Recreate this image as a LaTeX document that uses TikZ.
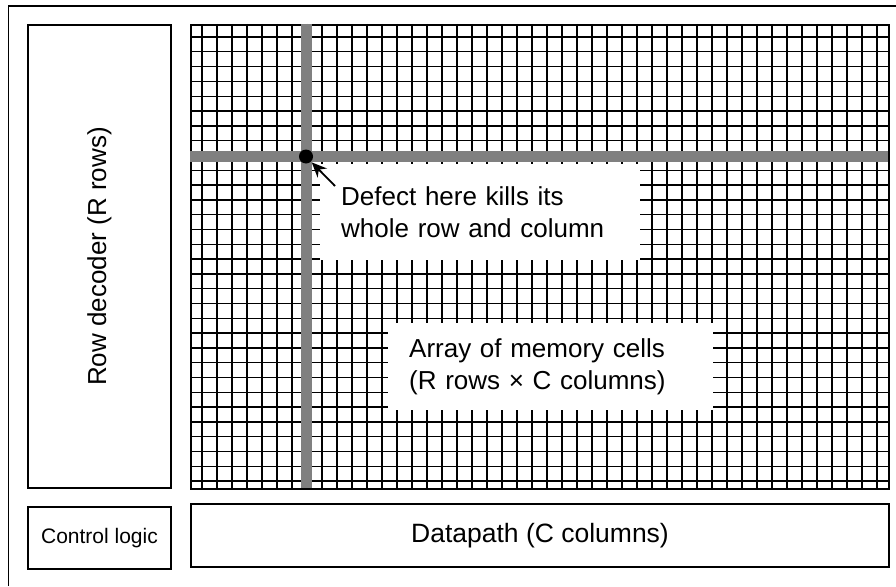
\documentclass[tikz,border=0pt]{standalone}
\usepackage{fontspec}
\setmainfont{Liberation Sans}
\usetikzlibrary{arrows.meta}
\definecolor{bandgray}{HTML}{808080}
\begin{document}
\begin{tikzpicture}[x=1pt,y=-1pt,
  box/.style={draw=black, line width=2pt, inner sep=0pt},
  big/.style={font=\fontsize{26}{32}\selectfont},
  gridline/.style={line width=1.4pt, draw=black},
  band/.style={line width=11pt, draw=bandgray},
  labbox/.style={fill=white, inner xsep=21pt, inner ysep=0pt, align=left, font=\fontsize{26}{32}\selectfont},
  pointer/.style={line width=1.8pt, -{Stealth[length=15pt,width=13pt]}, shorten >=1pt}]
\useasboundingbox (0,0) rectangle (896,586);
\fill[white] (0,0) rectangle (896,586);
% outer frame (runs off the right and bottom edges)
\draw[line width=1.5pt] (8.5,586) -- (8.5,6) -- (896,6);
% grid of memory cells
\foreach \i in {0,...,45} \draw[gridline] ({202+15*\i},24) -- ({202+15*\i},488);
\foreach \j in {0,...,30} \draw[gridline] (190,{37+14.8*\j}) -- (888,{37+14.8*\j});
\node[box, anchor=north west, minimum width=698pt, minimum height=464pt] (array) at (190,24) {};
% defective row and column
\draw[band] (190,156.5) -- (888,156.5);
\draw[band] (306,24) -- (306,488);
\node[circle, fill=black, minimum size=14pt, inner sep=0pt] (defect) at (306,156.5) {};
% labels
\node[labbox, anchor=west, text width=278pt, minimum height=96pt] (dlab) at (320,212) {Defect here kills its\\whole row and column};
\node[labbox, anchor=west, text width=283pt, minimum height=87pt] (alab) at (388,366.5) {Array of memory cells\\(R rows × C columns)};
\coordinate (atail) at (335,186);
\draw[pointer] (atail) -- (defect);
% side and bottom blocks
\node[box, anchor=north west, minimum width=143pt, minimum height=463pt] (rowdec) at (27,24) {};
\node[big, rotate=90] (rowdectext) at (rowdec.center) {Row decoder (R rows)};
\node[box, anchor=north west, minimum width=143pt, minimum height=62pt, font=\fontsize{21}{25}\selectfont] (ctrl) at (27,506) {Control logic};
\node[box, anchor=north west, minimum width=698pt, minimum height=63pt, font=\fontsize{26.5}{32}\selectfont] (dp) at (190,503) {Datapath (C columns)};
\end{tikzpicture}
\end{document}
